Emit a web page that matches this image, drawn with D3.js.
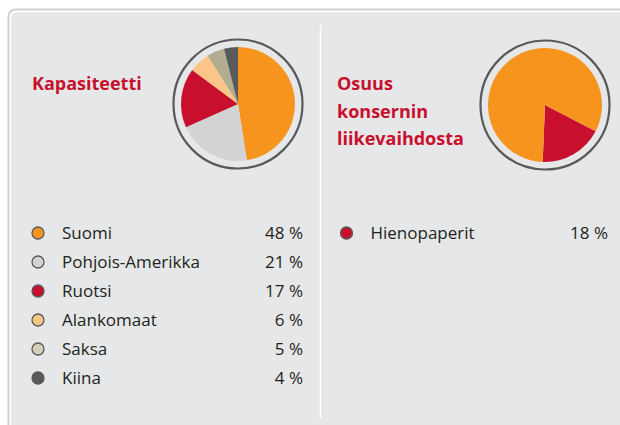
<!DOCTYPE html>
<html>
<head>
<meta charset="utf-8">
<script src="https://cdn.jsdelivr.net/npm/d3@7.9.0/dist/d3.min.js"></script>
<style>
  body { margin: 0; background: #fff; }
  svg { display: block; font-family: "Open Sans", sans-serif; }
</style>
</head>
<body>
<svg id="chart" width="620" height="425"></svg>
<script>
// capacity by country
const capLabels = ['Suomi', 'Pohjois-Amerikka', 'Ruotsi', 'Alankomaat', 'Saksa', 'Kiina'];
const capValues = [48, 21, 17, 6, 5, 4];
const capColors = ['#f7941d', '#d1d3d4', '#c8102e', '#fdc689', '#b1ad8e', '#58595b'];
const capDots   = ['#f7941d', '#d1d3d4', '#c8102e', '#fdc689', '#d5d1b8', '#58595b'];

// share of group turnover
const shareLabels = ['Hienopaperit'];
const shareValues = [18];

const svg = d3.select('#chart');
const red = '#c8102e';
const ink = '#231f20';

// panel
svg.append('rect')
  .attr('x', 8.5).attr('y', 9.5).attr('width', 640).attr('height', 440)
  .attr('rx', 7)
  .attr('fill', '#fff').attr('stroke', '#cfd0d2').attr('stroke-width', 2);
svg.append('rect')
  .attr('x', 12).attr('y', 13).attr('width', 640).attr('height', 440)
  .attr('rx', 5)
  .attr('fill', '#e6e7e8').attr('stroke', '#dcdddf').attr('stroke-width', 1);

// divider
svg.append('line')
  .attr('x1', 320.5).attr('x2', 320.5).attr('y1', 25).attr('y2', 418)
  .attr('stroke', '#fff').attr('stroke-width', 1.5);

const arc = d3.arc().innerRadius(0).outerRadius(57);

function drawPie(cx, cy, data, colors, startDeg) {
  const g = svg.append('g').attr('transform', `translate(${cx},${cy})`);
  g.append('circle').attr('r', 64.5)
    .attr('fill', 'none').attr('stroke', '#58595b').attr('stroke-width', 2.2);
  const start = startDeg * Math.PI / 180;
  const pie = d3.pie().sort(null).value(d => d)
    .startAngle(start).endAngle(start + 2 * Math.PI);
  g.selectAll('path').data(pie(data)).enter().append('path')
    .attr('d', arc)
    .attr('fill', (d, i) => colors[i]);
}

drawPie(238, 104, capValues, capColors, 0);
// remaining share fills the rest of the circle
drawPie(545, 105, [...shareValues, 100 - d3.sum(shareValues)], [red, '#f7941d'], 117.5);

// titles
svg.append('text').attr('x', 32).attr('y', 90)
  .attr('fill', red).attr('font-weight', 'bold').attr('font-size', 18)
  .text('Kapasiteetti');
['Osuus', 'konsernin', 'liikevaihdosta'].forEach((t, i) => {
  svg.append('text').attr('x', 337).attr('y', 90 + i * 27.5)
    .attr('fill', red).attr('font-weight', 'bold').attr('font-size', 18)
    .text(t);
});

function legend(x0, xRight, labels, values, dots) {
  labels.forEach((lab, i) => {
    const y = 233 + i * 29;
    svg.append('circle').attr('cx', x0).attr('cy', y).attr('r', 6)
      .attr('fill', dots[i]).attr('stroke', '#58595b').attr('stroke-width', 1.3);
    svg.append('text').attr('x', x0 + 24).attr('y', y + 6)
      .attr('fill', ink).attr('font-size', 17).text(lab);
    svg.append('text').attr('x', xRight).attr('y', y + 6)
      .attr('fill', ink).attr('font-size', 17).attr('text-anchor', 'end')
      .text(values[i] + ' %');
  });
}

legend(38, 303, capLabels, capValues, capDots);
legend(346.5, 608, shareLabels, shareValues, [red]);
</script>
</body>
</html>
